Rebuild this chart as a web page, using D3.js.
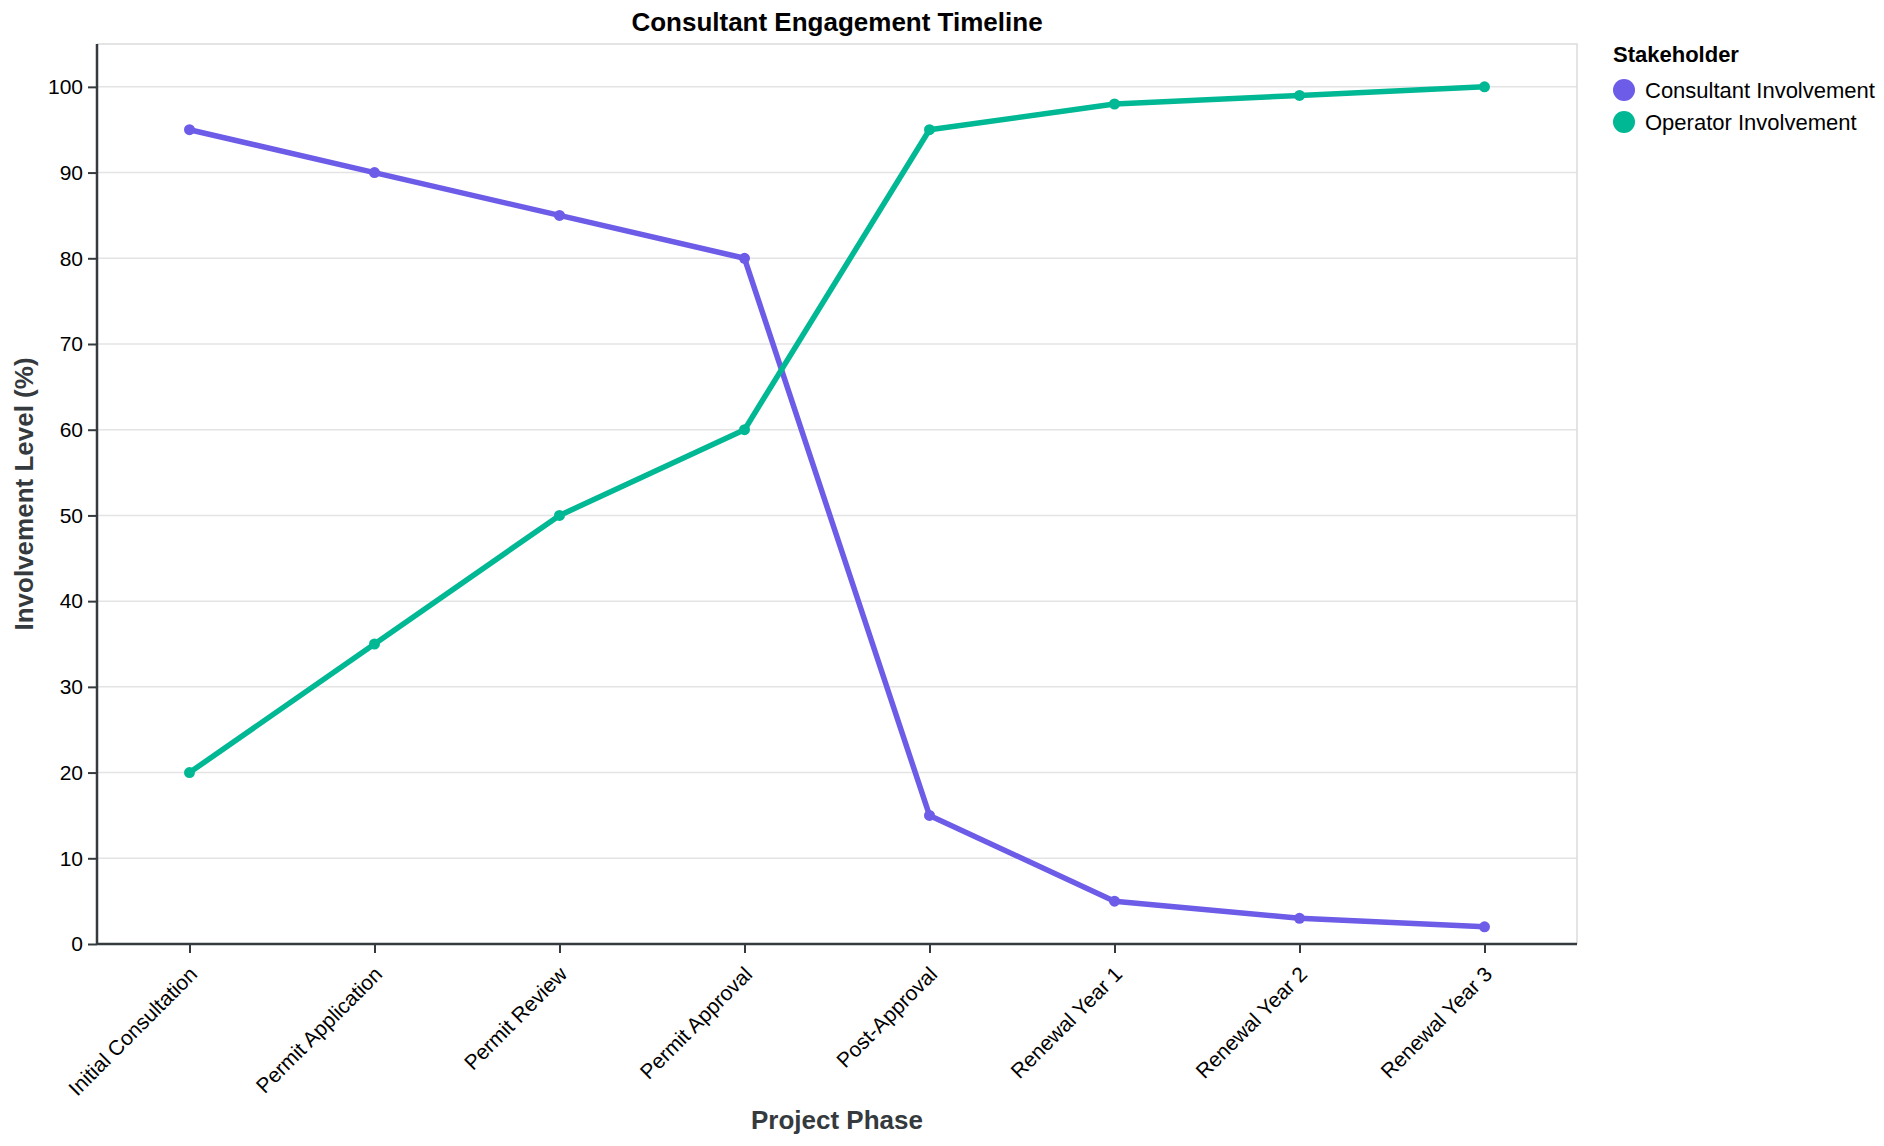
<!DOCTYPE html>
<html>
<head>
<meta charset="utf-8">
<script src="https://cdn.jsdelivr.net/npm/d3@7"></script>
<style>
  body { margin: 0; background: #fff; }
  svg { font-family: "Liberation Sans", Arial, Helvetica, sans-serif; }
</style>
</head>
<body>
<div id="wrapper"></div>
<script>
const phases = ['Initial Consultation', 'Permit Application', 'Permit Review', 'Permit Approval',
    'Post-Approval', 'Renewal Year 1', 'Renewal Year 2', 'Renewal Year 3'];
const consultantValues = [95, 90, 85, 80, 15, 5, 3, 2];
const operatorValues = [20, 35, 50, 60, 95, 98, 99, 100];
const seriesNames = ['Consultant Involvement', 'Operator Involvement'];
const seriesColors = ['#6c5ce7', '#00b894'];
const yTicks = [0, 10, 20, 30, 40, 50, 60, 70, 80, 90, 100];

const series = [
    { name: seriesNames[0], values: consultantValues },
    { name: seriesNames[1], values: operatorValues }
];

const dimensions = {
    width: 1884,
    height: 1146,
    margin: { top: 44, right: 307, bottom: 202, left: 97 }
};
dimensions.boundedWidth = dimensions.width - dimensions.margin.left - dimensions.margin.right;
dimensions.boundedHeight = dimensions.height - dimensions.margin.top - dimensions.margin.bottom;

const wrapper = d3.select('#wrapper')
    .append('svg')
    .attr('width', dimensions.width)
    .attr('height', dimensions.height);

const bounds = wrapper.append('g')
    .attr('transform', `translate(${dimensions.margin.left},${dimensions.margin.top})`);

const xScale = d3.scalePoint()
    .domain(phases)
    .range([0, dimensions.boundedWidth])
    .padding(0.5);

const yScale = d3.scaleLinear()
    .domain([0, 105])
    .range([dimensions.boundedHeight, 0]);

const colorScale = d3.scaleOrdinal()
    .domain(seriesNames)
    .range(seriesColors);

// grid
bounds.append('g')
    .selectAll('line')
    .data(yTicks)
    .join('line')
    .attr('x1', 0)
    .attr('x2', dimensions.boundedWidth)
    .attr('y1', d => yScale(d))
    .attr('y2', d => yScale(d))
    .attr('stroke', '#e4e4e4')
    .attr('stroke-width', 1.5);

// view border (top / right)
bounds.append('path')
    .attr('d', `M0,0H${dimensions.boundedWidth}V${dimensions.boundedHeight}`)
    .attr('fill', 'none')
    .attr('stroke', '#dcdcdc')
    .attr('stroke-width', 1.5);

// axes
const xAxis = bounds.append('g')
    .attr('transform', `translate(0,${dimensions.boundedHeight})`)
    .call(d3.axisBottom(xScale).tickSize(9).tickPadding(6));

xAxis.selectAll('text')
    .attr('text-anchor', 'end')
    .attr('dy', 0)
    .attr('transform', 'translate(-2,21) rotate(-45)')
    .style('font-size', '21px')
    .attr('fill', '#000');

const yAxis = bounds.append('g')
    .call(d3.axisLeft(yScale).tickValues(yTicks).tickSize(9).tickPadding(5));

yAxis.selectAll('text')
    .style('font-size', '21px')
    .attr('fill', '#000');

[xAxis, yAxis].forEach(ax => {
    ax.select('.domain').attr('stroke', '#343a3d').attr('stroke-width', 2.5);
    ax.selectAll('.tick line').attr('stroke', '#343a3d').attr('stroke-width', 2);
    ax.style('font-family', null);
});
xAxis.select('.domain').attr('d', `M0,0H${dimensions.boundedWidth}`);
yAxis.select('.domain').attr('d', `M0,${dimensions.boundedHeight}V0`);

// lines and points
const line = d3.line()
    .x((d, i) => xScale(phases[i]))
    .y(d => yScale(d));

const groups = bounds.selectAll('.series')
    .data(series)
    .join('g')
    .attr('class', 'series');

groups.append('path')
    .attr('d', d => line(d.values))
    .attr('fill', 'none')
    .attr('stroke', d => colorScale(d.name))
    .attr('stroke-width', 5.5)
    .attr('stroke-linejoin', 'round');

groups.selectAll('circle')
    .data(d => d.values.map((v, i) => ({ name: d.name, phase: phases[i], value: v })))
    .join('circle')
    .attr('cx', d => xScale(d.phase))
    .attr('cy', d => yScale(d.value))
    .attr('r', 5.5)
    .attr('fill', d => colorScale(d.name));

// titles
wrapper.append('text')
    .attr('x', dimensions.margin.left + dimensions.boundedWidth / 2)
    .attr('y', 31)
    .attr('text-anchor', 'middle')
    .style('font-size', '26px')
    .style('font-weight', 'bold')
    .attr('fill', '#000')
    .text('Consultant Engagement Timeline');

wrapper.append('text')
    .attr('x', dimensions.margin.left + dimensions.boundedWidth / 2)
    .attr('y', 1129)
    .attr('text-anchor', 'middle')
    .style('font-size', '26px')
    .style('font-weight', 'bold')
    .attr('fill', '#343a3d')
    .text('Project Phase');

wrapper.append('text')
    .attr('transform', `translate(33,${dimensions.margin.top + dimensions.boundedHeight / 2}) rotate(-90)`)
    .attr('text-anchor', 'middle')
    .style('font-size', '26px')
    .style('font-weight', 'bold')
    .attr('fill', '#343a3d')
    .text('Involvement Level (%)');

// legend
const legend = wrapper.append('g')
    .attr('transform', 'translate(1613,0)');

legend.append('text')
    .attr('x', 0)
    .attr('y', 62)
    .style('font-size', '22px')
    .style('font-weight', 'bold')
    .attr('fill', '#000')
    .text('Stakeholder');

const items = legend.selectAll('.item')
    .data(seriesNames)
    .join('g')
    .attr('class', 'item')
    .attr('transform', (d, i) => `translate(0,${90 + i * 32})`);

items.append('circle')
    .attr('cx', 11)
    .attr('cy', 0)
    .attr('r', 11)
    .attr('fill', d => colorScale(d));

items.append('text')
    .attr('x', 32)
    .attr('y', 7.5)
    .style('font-size', '22px')
    .attr('fill', '#000')
    .text(d => d);
</script>
</body>
</html>
